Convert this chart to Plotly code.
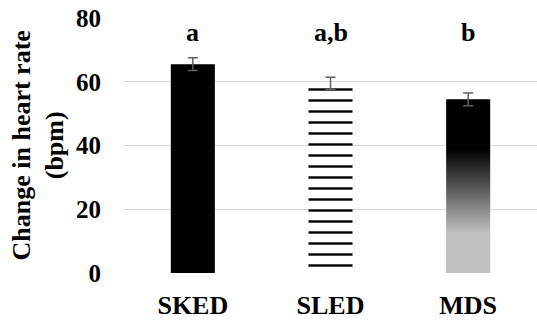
import plotly.graph_objects as go

# Heart-rate response by condition
categories = ["SKED", "SLED", "MDS"]
mean_change = [65.5, 59.5, 54.5]
sem_change = [2.0, 1.9, 2.0]
sig_letters = ["a", "a,b", "b"]
y_ticks = [0, 20, 40, 60, 80]

SERIF = "Liberation Serif"
BAR_W = 0.32
PLOT_L, PLOT_W = 124, 413
idx = list(range(len(categories)))

fig = go.Figure()

# Solid black bar
fig.add_trace(go.Bar(
    x=[idx[0]], y=[mean_change[0]], width=BAR_W,
    marker=dict(color="#000000", line=dict(width=0)),
    hoverinfo="skip", showlegend=False,
))

# Horizontally striped bar
fig.add_trace(go.Bar(
    x=[idx[1]], y=[mean_change[1]], width=BAR_W,
    marker=dict(
        color="#ffffff", line=dict(width=0),
        pattern=dict(shape="-", fgcolor="#000000", bgcolor="#ffffff", fgopacity=1,
                     size=11, solidity=0.22),
    ),
    hoverinfo="skip", showlegend=False,
))

# Gradient-filled bar (grey at the base fading to black)
i, v = idx[2], mean_change[2]
fig.add_trace(go.Scatter(
    x=[i - BAR_W / 2, i + BAR_W / 2, i + BAR_W / 2, i - BAR_W / 2, i - BAR_W / 2],
    y=[0, 0, v, v, 0],
    mode="lines", line=dict(width=0), fill="toself",
    fillgradient=dict(
        type="vertical", start=0, stop=v,
        colorscale=[[0, "#c0c0c0"], [0.23, "#c0c0c0"], [0.71, "#000000"], [1, "#000000"]],
    ),
    hoverinfo="skip", showlegend=False,
))

# Error bars on top of all bars
fig.add_trace(go.Scatter(
    x=idx, y=mean_change, mode="markers",
    marker=dict(size=1, opacity=0),
    error_y=dict(type="data", array=sem_change, color="#606060", thickness=1.5, width=5),
    hoverinfo="skip", showlegend=False,
))

# Significance letters
for k, lab in zip(idx, sig_letters):
    fig.add_annotation(
        x=k, y=75.5, xref="x", yref="y", text=f"<b>{lab}</b>", showarrow=False,
        font=dict(family=SERIF, size=26, color="#000000"), yanchor="middle",
    )

# Two-line y-axis title
fig.add_annotation(
    x=-(PLOT_L - 38) / PLOT_W, y=0.5, xref="paper", yref="paper",
    text="<b>Change in heart rate</b><br><b>(bpm)</b>",
    showarrow=False, textangle=-90, font=dict(family=SERIF, size=26, color="#000000"),
    xanchor="center", yanchor="middle",
)

fig.update_layout(
    width=537, height=320,
    margin=dict(l=PLOT_L, r=537 - PLOT_L - PLOT_W, t=18, b=47),
    paper_bgcolor="#ffffff", plot_bgcolor="#ffffff",
    barmode="overlay",
    xaxis=dict(
        range=[-0.5, 2.5], tickvals=idx, ticktext=categories,
        showgrid=False, zeroline=False, showline=False, ticks="",
        tickfont=dict(family=SERIF, size=26, color="#000000", weight="bold"),
        ticklabelstandoff=14,
    ),
    yaxis=dict(
        range=[0, 80], tickvals=y_ticks, showgrid=True, gridcolor="#d9d9d9", gridwidth=1.3,
        zeroline=False, showline=False, ticks="",
        tickfont=dict(family=SERIF, size=25, color="#000000", weight="bold"),
        ticklabelstandoff=22,
    ),
)

fig.write_html("out.html")
